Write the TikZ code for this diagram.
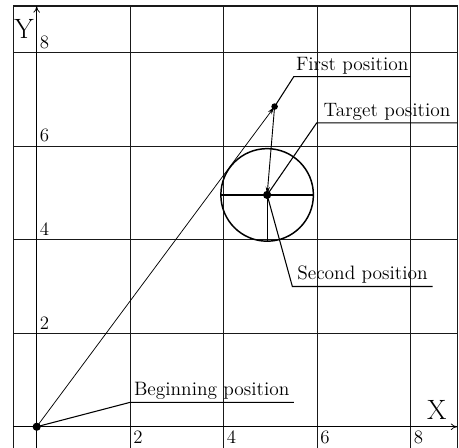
\documentclass[tikz,border=0pt]{standalone}
\usetikzlibrary{arrows.meta,calc}
\begin{document}
\begin{tikzpicture}[
  grid/.style={line width=0.7pt, black!90},
  axisline/.style={line width=0.45pt, black},
  leader/.style={line width=0.65pt, black},
  lbl/.style={font=\fontsize{11.8}{14}\selectfont, inner sep=1.5pt, anchor=south},
  num/.style={font=\fontsize{11.5}{13}\selectfont, inner sep=1.2pt},
  big/.style={font=\fontsize{17}{19}\selectfont, inner sep=0pt},
  dot/.style={circle, fill=black, inner sep=0pt, minimum size=#1},
  tip/.style={-{Stealth[length=5pt,width=2.6pt]}}
]
\useasboundingbox (-0.785,-0.45) rectangle (9.035,9.13);
% frame and grid
\draw[grid] (-0.5,-0.45) -- (-0.5,9) -- (9,9) -- (9,-0.45);
\foreach \v in {2,4,6,8} {
  \draw[grid] (\v,-0.45) -- (\v,9);
  \draw[grid] (-0.5,\v) -- (9,\v);
}
% axes
\draw[axisline, -{To[length=4pt,width=4pt]}] (0,-0.45) -- (0,9);
\draw[axisline, -{To[length=4pt,width=4pt]}] (-0.5,0) -- (9,0);
% axis numbers
\foreach \v in {2,4,6,8} {
  \node[num, anchor=south west] (ny\v) at (0.02,\v+0.04) {\v};
  \node[num, anchor=north west] (nx\v) at (\v+0.02,-0.04) {\v};
}
\node[big] (Xl) at (8.56,0.36) {X};
\node[big] (Yl) at (-0.27,8.52) {Y};
% points
\coordinate (O) at (0,0);
\coordinate (F) at (5.09,6.85);
\coordinate (C) at (4.93,4.96);
\node[dot=5pt] (Od) at (O) {};
\node[dot=4pt] (Fd) at (F) {};
\node[dot=5pt] (Cd) at (C) {};
% circle and its lines
\draw[line width=0.9pt] (C) circle (0.99);
\draw[line width=0.75pt] ($(C)+(-0.99,0)$) -- ($(C)+(0.99,0)$);
\draw[line width=0.75pt] (C) -- ($(C)+(0,-0.99)$);
% moves
\draw[line width=0.45pt, tip] (O) -- (F);
\draw[line width=0.55pt, tip] (F) -- (C);
% leaders and labels
\coordinate (bk) at (1.99,0.52);
\coordinate (be) at (5.50,0.52);
\draw[leader] (O) -- (bk) -- (be);
\node[lbl] (bl) at ($(bk)!0.5!(be)$) {Beginning position};
\coordinate (fk) at (5.50,7.49);
\coordinate (fe) at (8.0,7.49);
\draw[leader] (F) -- (fk) -- (fe);
\node[lbl] (fl) at ($(fk)!0.5!(fe)$) {First position};
\coordinate (tk) at (5.99,6.50);
\coordinate (te) at (9.0,6.50);
\draw[leader] (C) -- (tk) -- (te);
\node[lbl] (tl) at ($(tk)!0.5!(te)$) {Target position};
\coordinate (sk) at (5.47,3.0);
\coordinate (se) at (8.47,3.0);
\draw[leader] (C) -- (sk) -- (se);
\node[lbl] (sl) at ($(sk)!0.5!(se)$) {Second position};
\end{tikzpicture}
\end{document}
